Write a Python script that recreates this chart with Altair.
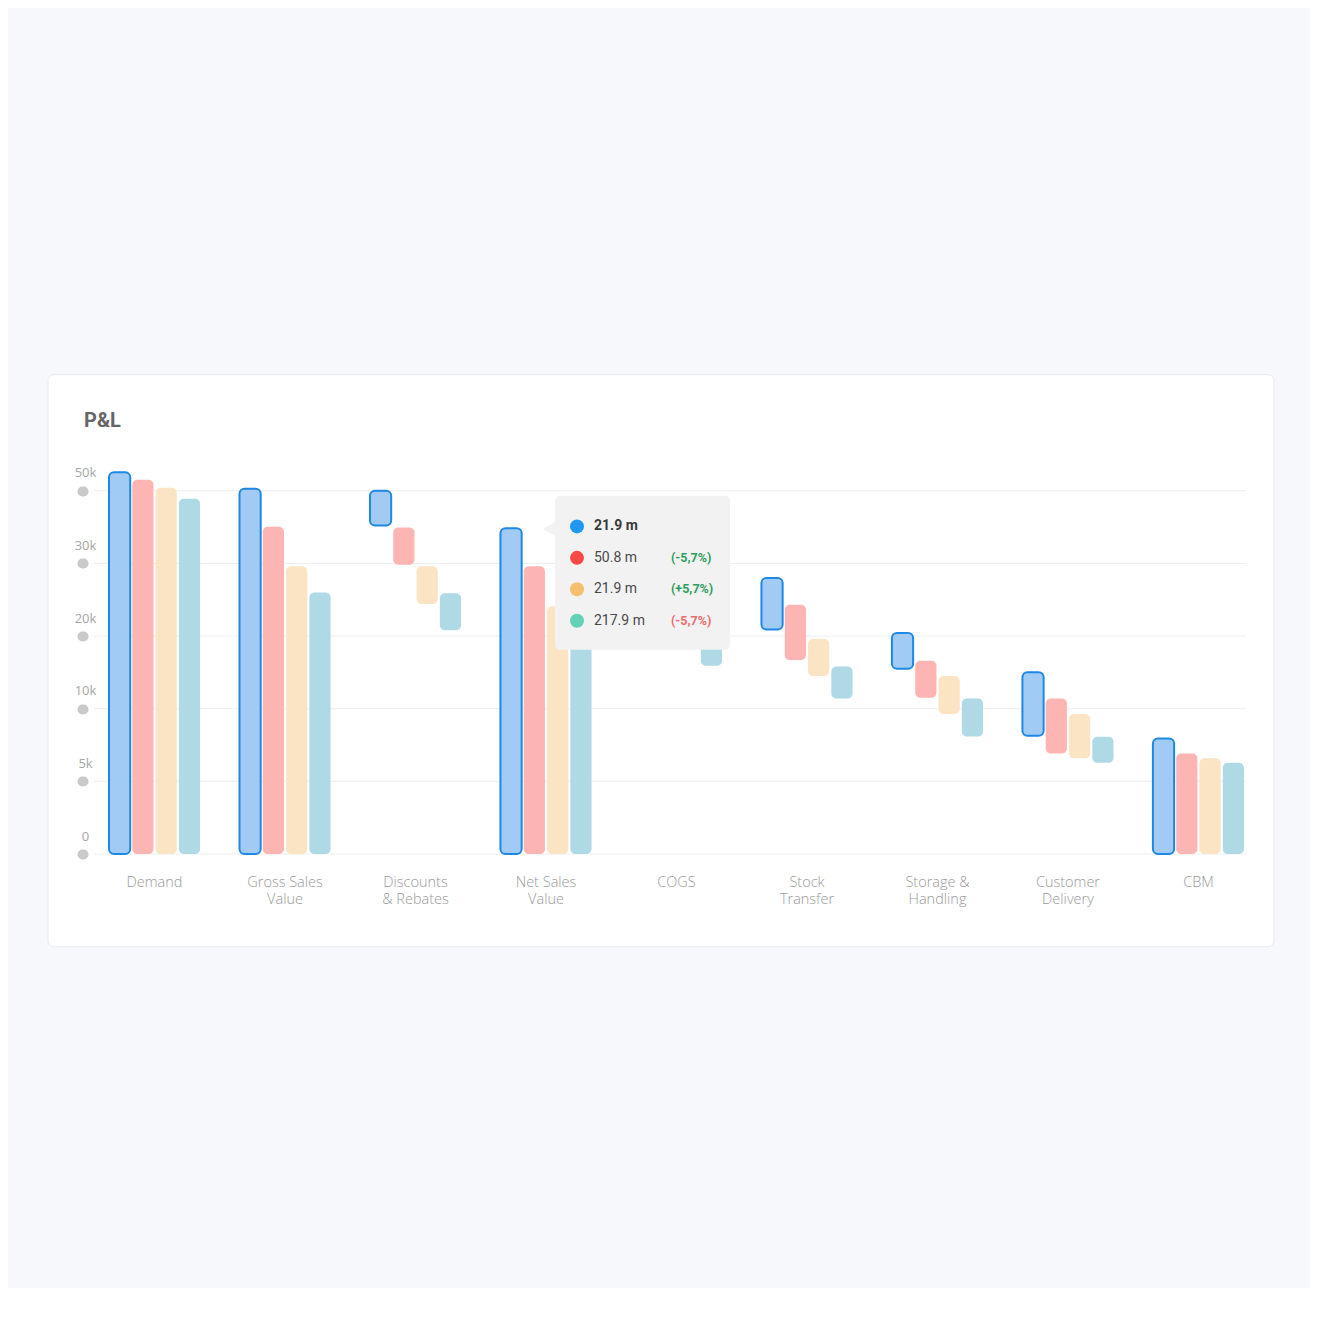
import altair as alt
import pandas as pd

# ---------------- data ----------------
categories = ["Demand", "Gross Sales|Value", "Discounts|& Rebates", "Net Sales|Value", "COGS",
              "Stock|Transfer", "Storage &|Handling", "Customer|Delivery", "CBM"]
series = ["A", "B", "C", "D"]
fill_colors = ["#A1CBF5", "#FDB5B4", "#FAE4C4", "#B0D9E6"]

start_A = [0, 0, 40400, 0, 28000, 20900, 15500, 8130, 0]
end_A = [55000, 50500, 50000, 39700, 39700, 28000, 20400, 15000, 7950]
start_B = [0, 0, 29800, 0, 24300, 16700, 11500, 6910, 0]
end_B = [53000, 40050, 39900, 29600, 29600, 24300, 16600, 11400, 6910]
start_C = [0, 0, 24400, 0, 19600, 14500, 9630, 6590, 0]
end_C = [50800, 29600, 29600, 24100, 24100, 19600, 14500, 9630, 6590]
start_D = [0, 0, 20800, 0, 15900, 11400, 8080, 6270, 0]
end_D = [47800, 26000, 25900, 20700, 20700, 15800, 11400, 8060, 6270]

y_ticks = [0, 5000, 10000, 20000, 30000, 50000]
y_tick_labels = ["0", "5k", "10k", "20k", "30k", "50k"]

tip_values = ["21.9 m", "50.8 m", "21.9 m", "217.9 m"]
tip_pct = ["", "(-5,7%)", "(+5,7%)", "(-5,7%)"]
tip_pct_colors = ["#2E9E5E", "#2E9E5E", "#2E9E5E", "#F06B6B"]
tip_dot_colors = ["#2196F3", "#FF4848", "#F5BF6D", "#63D1B7"]

starts = [start_A, start_B, start_C, start_D]
ends = [end_A, end_B, end_C, end_D]
rows = []
for si, s in enumerate(series):
    for ci, c in enumerate(categories):
        rows.append({"cat": c, "series": s, "lo": starts[si][ci], "hi": ends[si][ci]})
bars_df = pd.DataFrame(rows)

grid_df = pd.DataFrame({"v": y_ticks})
tip_df = pd.DataFrame({"row": list(range(4)), "val": tip_values, "pct": tip_pct,
                       "pc": tip_pct_colors, "dc": tip_dot_colors})
one = pd.DataFrame({"a": [0]})

# ---------------- layout ----------------
W, H = 1165, 400
label_map = dict(zip([str(v) for v in y_ticks], y_tick_labels))
label_expr = "{" + ",".join(f"'{k}':'{v}'" for k, v in label_map.items()) + "}[datum.value + '']"

yscale = alt.Scale(domain=[0, 5000, 10000, 20000, 30000, 50000, 60000],
                   range=[400, 327.3, 254.7, 182, 109.4, 36.7, 0], nice=False, zero=False)

card = alt.Chart(one).mark_rect(fill="white", stroke="#E8E9EF", strokeWidth=1, cornerRadius=6).encode(
    x=alt.value(-46), x2=alt.value(1180), y=alt.value(-79.3), y2=alt.value(492.7))

grid = alt.Chart(grid_df).mark_rule(color="#EEEEEE", strokeWidth=1).encode(
    y=alt.Y("v:Q", scale=yscale, axis=None), x=alt.value(0), x2=alt.value(1152))

bars = alt.Chart(bars_df).mark_bar(cornerRadius=5, stroke="#1E88E5").encode(
    x=alt.X("cat:N", sort=categories,
            scale=alt.Scale(paddingInner=0.302, paddingOuter=0.115),
            axis=alt.Axis(title=None, labelAngle=0, domain=False, ticks=False, grid=False,
                          labelExpr="split(datum.label, '|')", labelPadding=21,
                          labelFont="Open Sans", labelFontWeight=300, labelFontSize=14.5,
                          labelColor="#999999", labelLineHeight=17.5, zindex=1)),
    xOffset=alt.XOffset("series:N", sort=series, scale=alt.Scale(paddingInner=0.09, paddingOuter=0)),
    y=alt.Y("hi:Q", scale=yscale,
            axis=alt.Axis(title=None, values=y_ticks, grid=False, domain=False, ticks=True,
                          tickCap="round", tickWidth=10, tickSize=1, tickColor="#C9C9C9",
                          offset=11, labelAlign="center", labelBaseline="middle",
                          labelOffset=-18, labelPadding=-3, labelExpr=label_expr,
                          labelFont="Open Sans", labelFontWeight=400, labelFontSize=13,
                          labelColor="#A6A6A6", zindex=1)),
    y2="lo:Q",
    color=alt.Color("series:N", scale=alt.Scale(domain=series, range=fill_colors), legend=None),
    strokeWidth=alt.condition(alt.datum.series == "A", alt.value(2), alt.value(0)),
)

tip_box = alt.Chart(one).mark_rect(fill="#F2F2F2", cornerRadius=5).encode(
    x=alt.value(461), x2=alt.value(636), y=alt.value(41.7), y2=alt.value(195.7))
tip_arrow = alt.Chart(one).mark_point(shape="triangle-left", filled=True, fill="#F2F2F2",
                                      opacity=1, strokeWidth=0, size=200).encode(
    x=alt.value(455), y=alt.value(75))

row_y = alt.Y("row:O", scale=alt.Scale(type="point", domain=[0, 1, 2, 3],
                                       range=[72.4, 166.7], padding=0), axis=None)

tip_dots = alt.Chart(tip_df).mark_circle(size=196, opacity=1).encode(
    x=alt.value(483), y=row_y, color=alt.Color("dc:N", scale=None))
tip_first = alt.Chart(tip_df).transform_filter("datum.row == 0").mark_text(
    align="left", baseline="middle", font="Roboto", fontSize=14, fontWeight="bold", color="#3A3A3A").encode(
    x=alt.value(500), y=row_y, text="val:N")
tip_rest = alt.Chart(tip_df).transform_filter("datum.row > 0").mark_text(
    align="left", baseline="middle", font="Roboto", fontSize=14, color="#4A4A4A").encode(
    x=alt.value(500), y=row_y, text="val:N")
tip_pcts = alt.Chart(tip_df).transform_filter("datum.row > 0").mark_text(
    align="left", baseline="middle", font="Roboto", fontSize=12.5, fontWeight="bold").encode(
    x=alt.value(577), y=row_y, text="pct:N", color=alt.Color("pc:N", scale=None))

title = alt.Chart(one).mark_text(text="P&L", align="left", baseline="middle", font="Roboto",
                                 fontSize=20, fontWeight="bold", color="#666666").encode(
    x=alt.value(-10), y=alt.value(-33.3))

chart = alt.layer(card, grid, bars, tip_box, tip_arrow, tip_dots, tip_first, tip_rest, tip_pcts, title
                  ).resolve_scale(y="independent").properties(
    width=W, height=H,
    padding={"left": 39, "top": 366, "right": 35, "bottom": 340},
    autosize=alt.AutoSizeParams(type="pad"),
    background="#F7F8FC",
).configure_view(stroke=None)

chart.save("out.html", embed_options={"renderer": "svg", "actions": False})
